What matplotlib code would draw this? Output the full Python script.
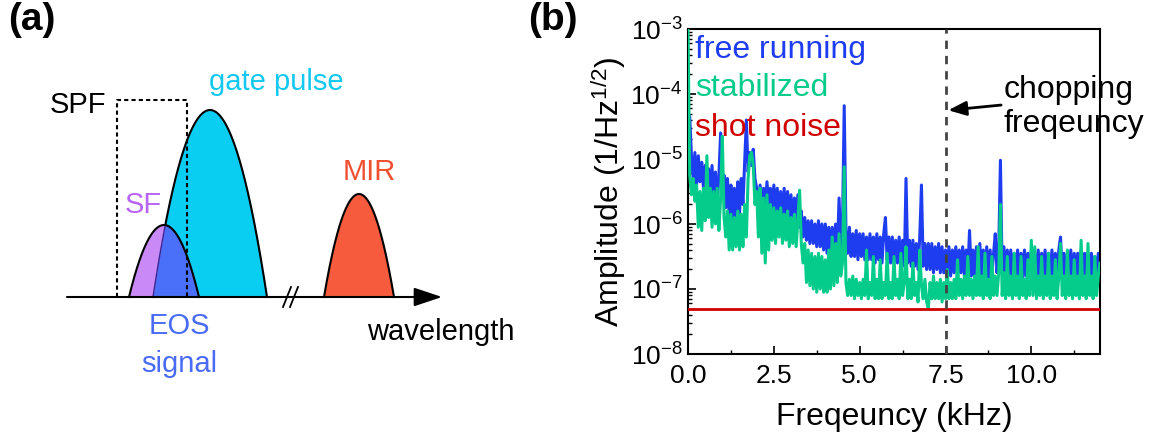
import numpy as np
import matplotlib.pyplot as plt

plt.rcParams['font.family'] = ['Liberation Sans', 'DejaVu Sans']
plt.rcParams['mathtext.fontset'] = 'custom'
plt.rcParams['mathtext.rm'] = 'Liberation Sans'
plt.rcParams['mathtext.it'] = 'Liberation Sans:italic'

# ---------------- data (b): noise spectra ----------------
# sample points every 0.05 kHz, values are log10 of the amplitude (1/Hz^1/2)
freq_khz = np.round(np.arange(0, 12.001, 0.05), 2)

free_running_log = [
    -4.30, -4.35, -4.95, -5.30, -4.90, -5.40, -4.95, -5.35, -5.05, -5.45,
    -5.10, -5.50, -5.15, -5.55, -5.10, -5.60, -5.20, -5.65, -5.25, -4.60,
    -5.50, -5.25, -5.75, -5.30, -5.85, -5.40, -6.00, -5.45, -6.00, -5.35,
    -5.85, -5.30, -5.70, -5.05, -4.40, -5.20, -4.90, -5.10, -4.85, -5.30,
    -5.45, -5.75, -5.40, -5.70, -5.45, -5.75, -5.35, -5.70, -5.45, -5.80,
    -5.40, -5.85, -5.45, -5.90, -5.50, -5.95, -5.45, -5.90, -5.50, -5.95,
    -5.55, -6.00, -5.60, -5.95, -5.55, -6.05, -5.80, -6.20, -5.90, -6.25,
    -5.95, -6.30, -5.95, -6.30, -6.00, -6.35, -5.95, -6.35, -6.00, -6.40,
    -6.00, -6.45, -6.05, -6.45, -6.05, -6.50, -6.00, -6.45, -5.60, -6.40,
    -6.05, -4.18, -6.10, -6.45, -6.05, -6.50, -6.15, -6.50, -6.10, -6.55,
    -6.15, -6.50, -6.15, -6.55, -6.20, -6.55, -6.15, -6.55, -6.20, -6.60,
    -6.15, -6.55, -6.20, -6.60, -6.15, -5.90, -6.55, -6.20, -6.60, -6.20,
    -6.60, -6.25, -6.60, -6.20, -6.65, -6.25, -6.65, -5.30, -6.60, -6.25,
    -6.65, -6.25, -6.65, -6.30, -6.70, -6.20, -5.40, -6.65, -6.30, -6.70,
    -6.30, -6.70, -6.30, -6.75, -6.35, -6.70, -6.30, -6.75, -6.35, -6.75,
    -6.40, -6.75, -6.35, -6.80, -6.40, -6.75, -6.35, -6.80, -6.40, -6.75,
    -6.35, -6.80, -6.40, -6.75, -6.10, -6.80, -6.40, -6.80, -6.35, -6.80,
    -6.30, -6.80, -6.40, -6.80, -6.35, -6.85, -6.40, -6.80, -6.45, -6.15,
    -6.75, -6.40, -5.02, -6.75, -6.35, -6.80, -6.40, -6.85, -6.40, -6.80,
    -6.45, -6.85, -6.40, -6.80, -6.45, -6.85, -6.40, -6.80, -6.45, -6.85,
    -6.40, -6.80, -6.45, -6.85, -6.40, -6.85, -6.45, -6.80, -6.40, -6.85,
    -6.45, -6.85, -6.40, -6.80, -6.45, -6.85, -6.40, -6.20, -6.80, -6.45,
    -6.85, -6.45, -6.80, -6.40, -6.85, -6.45, -6.80, -6.45, -6.85, -6.40,
    -6.80, -6.45, -6.85, -6.45, -6.80, -6.45, -6.85, -6.50, -6.80, -6.45,
    -6.80,
]

stabilized_log = [
    -3.00, -5.25, -5.55, -5.30, -5.65, -5.40, -6.05, -5.50, -6.10, -5.45,
    -5.95, -4.95, -5.90, -5.45, -6.05, -5.50, -6.00, -5.45, -6.10, -5.60,
    -4.65, -5.90, -6.20, -5.80, -6.40, -5.85, -6.40, -5.90, -6.35, -5.80,
    -6.40, -5.85, -6.35, -5.70, -6.20, -5.30, -4.95, -4.90, -5.10, -5.70,
    -5.50, -6.20, -5.45, -6.45, -5.60, -6.60, -5.55, -6.40, -5.70, -6.25,
    -5.75, -6.30, -5.80, -6.20, -5.75, -6.30, -5.85, -6.25, -5.80, -6.35,
    -5.90, -6.30, -5.85, -6.35, -5.95, -5.48, -6.30, -6.60, -6.30, -6.90,
    -6.40, -6.95, -6.45, -7.00, -6.50, -7.05, -6.45, -7.00, -6.50, -7.05,
    -6.55, -7.05, -6.40, -7.00, -6.20, -6.95, -6.30, -6.90, -6.15, -6.80,
    -6.60, -5.12, -6.90, -7.10, -6.85, -7.10, -6.80, -7.15, -6.85, -7.10,
    -6.90, -7.15, -6.85, -7.10, -6.40, -7.15, -6.90, -7.10, -6.50, -7.15,
    -6.85, -7.15, -6.55, -7.15, -6.90, -7.10, -6.45, -7.15, -6.90, -7.15,
    -6.50, -7.10, -6.85, -7.15, -6.45, -7.10, -6.90, -6.35, -7.15, -6.85,
    -7.15, -6.60, -7.10, -6.90, -7.20, -6.40, -6.95, -7.15, -6.85, -7.20,
    -7.30, -6.90, -7.15, -6.80, -7.15, -6.90, -7.15, -6.85, -7.20, -6.90,
    -7.15, -6.70, -7.15, -6.90, -7.15, -6.85, -7.15, -6.55, -7.10, -6.85,
    -7.15, -6.80, -7.10, -6.50, -7.10, -6.85, -7.15, -6.80, -7.10, -6.35,
    -7.10, -6.80, -7.15, -6.45, -7.10, -6.85, -7.15, -6.50, -7.10, -6.80,
    -7.10, -6.75, -5.70, -7.10, -6.75, -7.15, -6.50, -7.10, -6.80, -7.15,
    -6.45, -7.10, -6.80, -7.15, -6.50, -7.10, -6.85, -7.15, -6.55, -7.10,
    -6.25, -7.10, -6.35, -7.15, -6.80, -7.10, -6.50, -7.15, -6.80, -7.10,
    -6.45, -7.15, -6.80, -7.10, -6.55, -7.15, -6.80, -6.30, -7.10, -6.80,
    -7.15, -6.40, -7.10, -6.80, -7.15, -6.55, -7.10, -6.80, -7.15, -6.25,
    -7.10, -6.80, -7.15, -6.30, -7.10, -6.80, -7.15, -6.50, -7.10, -6.80,
    -6.60,
]

shot_noise = 5e-8
chopping_khz = 7.5

free_running = 10 ** np.array(free_running_log)
stabilized = 10 ** np.array(stabilized_log)

# ---------------- data (a): schematic pulses ----------------
# centre, half width and height of each pulse, in schematic units
pulse_center = {'gate': 210, 'SF': 164, 'MIR': 359}
pulse_halfwidth = {'gate': 57, 'SF': 35, 'MIR': 35}
pulse_height = {'gate': 187, 'SF': 72, 'MIR': 103}
spf_edges = [117, 187]
spf_height = 197

fig = plt.figure(figsize=(11.5, 4.36), dpi=100)

# ======================= panel (a) =======================
ax_a = fig.add_axes([0, 0, 0.5, 1])
ax_a.set_xlim(0, 575)
ax_a.set_ylim(-139, 297)
ax_a.axis('off')


def pulse(name, n=300):
    c, w, h = pulse_center[name], pulse_halfwidth[name], pulse_height[name]
    x = np.linspace(c - w, c + w, n)
    return x, h * (1 - ((x - c) / w) ** 2)


xg, yg = pulse('gate')
ax_a.fill_between(xg, 0, yg, color='#0ACDF2', lw=0, zorder=2)
ax_a.plot(xg, yg, color='k', lw=1.5, zorder=3)

xs, ys = pulse('SF')
ax_a.fill_between(xs, 0, ys, color='#C98AF8', lw=0, zorder=4)
# EOS signal = part of the SF that overlaps the gate pulse
yg_on_s = pulse_height['gate'] * (1 - ((xs - pulse_center['gate']) / pulse_halfwidth['gate']) ** 2)
eos = np.clip(np.minimum(ys, yg_on_s), 0, None)
ax_a.fill_between(xs, 0, eos, color='#4A70FA', lw=0, zorder=5)
inside = (yg_on_s > 0) & (yg_on_s < ys)
ax_a.plot(xs[inside], yg_on_s[inside], color='#3a2590', lw=1.0, zorder=6)
ax_a.plot(xs, ys, color='k', lw=1.5, zorder=7)

xm, ym = pulse('MIR')
ax_a.fill_between(xm, 0, ym, color='#F55B3C', lw=0, zorder=2)
ax_a.plot(xm, ym, color='k', lw=1.5, zorder=3)

# short pass filter box
ax_a.plot([spf_edges[0], spf_edges[0], spf_edges[1], spf_edges[1]],
          [0, spf_height, spf_height, 0], color='k', lw=1.5,
          ls=(0, (2, 1.5)), zorder=8)

# wavelength axis with break
ax_a.annotate('', xy=(442, 0), xytext=(67, 0),
              arrowprops=dict(arrowstyle='-|>,head_length=1.2,head_width=0.4',
                              color='k', lw=1.5, mutation_scale=14.4,
                              shrinkA=0, shrinkB=0), zorder=9)
for xb in [287, 294]:
    ax_a.plot([xb - 4, xb + 4], [-10, 10], color='k', lw=1.3, zorder=9)

ax_a.text(50, 192, 'SPF', fontsize=21, color='k', va='center', ha='left')
ax_a.text(276, 215, 'gate pulse', fontsize=21, color='#12C8F0', va='center', ha='center')
ax_a.text(143, 92, 'SF', fontsize=21, color='#B865F5', va='center', ha='center')
ax_a.text(369, 125, 'MIR', fontsize=21, color='#F05030', va='center', ha='center')
ax_a.text(179, -29, 'EOS', fontsize=21, color='#4A6CF5', va='center', ha='center')
ax_a.text(179, -67, 'signal', fontsize=21, color='#4A6CF5', va='center', ha='center')
ax_a.text(367, -35, 'wavelength', fontsize=21, color='k', va='center', ha='left')

fig.text(8 / 1150, 1 - 20 / 436, '(a)', fontsize=28, fontweight='bold', va='center', ha='left')
fig.text(528 / 1150, 1 - 20 / 436, '(b)', fontsize=28, fontweight='bold', va='center', ha='left')

# ======================= panel (b) =======================
ax = fig.add_axes([688 / 1150, 1 - 354 / 436, 412 / 1150, 325 / 436])

ax.plot(freq_khz, free_running, color='#1E3CF0', lw=2.2, zorder=2)
ax.plot(freq_khz, stabilized, color='#05CC8A', lw=2.2, zorder=3)
ax.axhline(shot_noise, color='#D00000', lw=2, zorder=4)
ax.axvline(chopping_khz, color='#444444', lw=2, ls=(0, (3, 2.5)), zorder=5)

ax.set_yscale('log')
ax.set_xlim(0, 12)
ax.set_ylim(1e-8, 1e-3)
ax.set_xticks([0, 2.5, 5, 7.5, 10])
ax.set_xticklabels(['0.0', '2.5', '5.0', '7.5', '10.0'])
ax.set_xticks([1.25, 3.75, 6.25, 8.75, 11.25], minor=True)
ax.tick_params(which='both', direction='in', top=False, right=False, labelsize=19)
ax.tick_params(axis='x', pad=7)
ax.tick_params(axis='y', pad=4)
ax.tick_params(which='major', length=6, width=1.2)
ax.tick_params(which='minor', length=3, width=1)
for s in ax.spines.values():
    s.set_linewidth(1.5)

ax.set_xlabel('Freqeuncy (kHz)', fontsize=23, labelpad=10)
ax.set_ylabel('Amplitude (1/Hz$^{1/2}$)', fontsize=23, labelpad=2)

ax.text(0.017, 0.935, 'free running', transform=ax.transAxes, fontsize=23,
        color='#1E3CF0', va='center', ha='left', zorder=6)
ax.text(0.017, 0.818, 'stabilized', transform=ax.transAxes, fontsize=23,
        color='#05CC8A', va='center', ha='left', zorder=6)
ax.text(0.017, 0.695, 'shot noise', transform=ax.transAxes, fontsize=23,
        color='#D00000', va='center', ha='left', zorder=6)

ax.annotate('', xy=(7.58, 10 ** -4.25), xytext=(9.12, 10 ** -4.17),
            arrowprops=dict(arrowstyle='-|>,head_length=0.75,head_width=0.3',
                            color='k', lw=2, mutation_scale=14.4,
                            shrinkA=0, shrinkB=0), zorder=7)
ax.text(9.2, 10 ** -4.2, 'chopping\nfreqeuncy', fontsize=23, color='k',
        va='center', ha='left', linespacing=1.2, zorder=7, clip_on=False)

fig.savefig('out.png', dpi=100)
